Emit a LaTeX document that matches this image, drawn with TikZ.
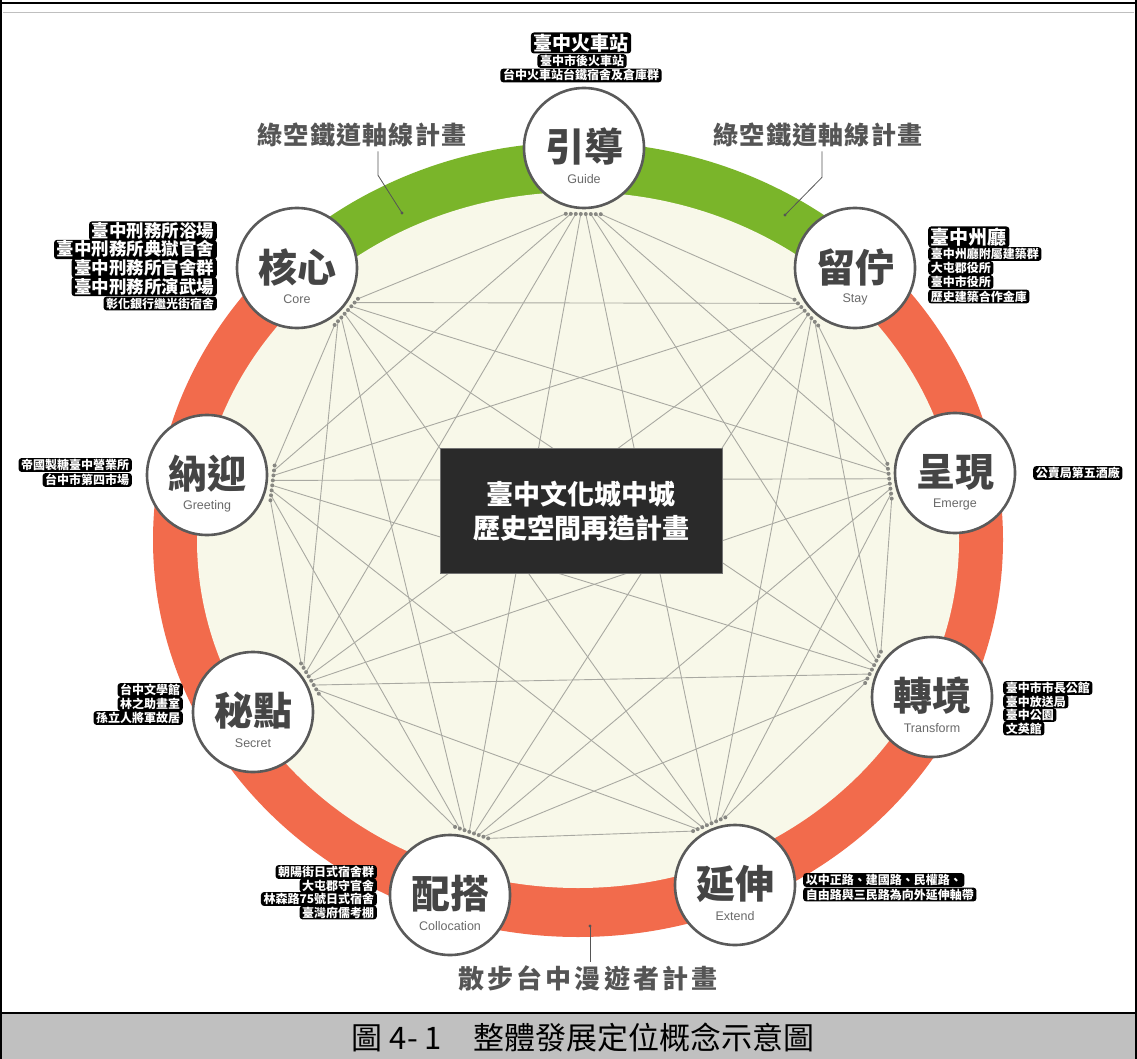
\documentclass[tikz,border=0pt]{standalone}
\usepackage{fontspec}
\setmainfont{Liberation Sans}
\newfontfamily\cjk{Noto Sans CJK TC}
\usetikzlibrary{calc}
\definecolor{greenR}{HTML}{7AB52A}
\definecolor{redR}{HTML}{F26B4C}
\definecolor{creamC}{HTML}{F8F8E9}
\definecolor{webC}{HTML}{A9A9A2}
\definecolor{nodeB}{HTML}{5A5A5A}
\definecolor{titleC}{HTML}{454545}
\definecolor{engC}{HTML}{6A6A6A}
\definecolor{boxC}{HTML}{2A2A2A}
\definecolor{capC}{HTML}{C0C0C0}
\definecolor{plabC}{HTML}{555555}
\tikzset{
 nodecirc/.style={circle, draw=nodeB, line width=2.6pt, fill=white, minimum size=120pt, inner sep=0pt},
 titletext/.style={font=\cjk\bfseries\fontsize{39}{42}\selectfont, text=titleC, inner sep=0pt},
 engtext/.style={font=\fontsize{12.5}{14}\selectfont, text=engC, inner sep=0pt},
 lab/.style={fill=black, text=white, rounded corners=3pt, inner xsep=2.6pt},
 biglab/.style={lab, font=\cjk\bfseries\fontsize{17.5}{20}\selectfont, text height=15.6pt, text depth=2.6pt, inner ysep=0.6pt},
 hugelab/.style={lab, font=\cjk\bfseries\fontsize{19}{21}\selectfont, text height=17pt, text depth=2.8pt, inner ysep=0.6pt},
 smalllab/.style={lab, font=\cjk\bfseries\fontsize{12}{14}\selectfont, text height=10.8pt, text depth=1.8pt, inner ysep=0.6pt},
 planlab/.style={font=\cjk\bfseries\fontsize{25}{28}\selectfont\addfontfeature{LetterSpace=5}, text=plabC, inner sep=0pt},
 webline/.style={draw=webC, line width=0.9pt},
 webdot/.style={fill=webC!80!black},
 leader/.style={draw=plabC, line width=0.8pt},
}
\begin{document}
\begin{tikzpicture}[x=1pt,y=-1pt]
\useasboundingbox (0,0) rectangle (1137,1059);
\fill[white] (0,0) rectangle (1137,1059);
% caption band and frame
\fill[capC] (0,1014) rectangle (1137,1059);
\draw[line width=2.5pt] (0,1013) -- (1137,1013);
\draw[line width=2pt] (0,3.5) -- (1137,3.5);
\draw[line width=2pt] (1,0) -- (1,1059);
\draw[line width=2pt] (1136,0) -- (1136,1059);
\draw[black!25, line width=1pt] (3,13) -- (1134,13);
% ring
\coordinate (O) at (578,540);
\coordinate (C) at (580,520);
\fill[redR] (O) ellipse [x radius=425, y radius=397];
\fill[greenR] plot[domain=224:316, samples=80] ({578+426*cos(\x)},{540+398*sin(\x)})
  -- plot[domain=316:224, samples=80] ({578+380*cos(\x)},{540+347*sin(\x)}) -- cycle;
\fill[creamC] (O) ellipse [x radius=381, y radius=348];
% node centres
\coordinate (N0) at (584,148);
\coordinate (N1) at (855,268);
\coordinate (N2) at (955,473);
\coordinate (N3) at (932,697);
\coordinate (N4) at (735,885);
\coordinate (N5) at (450,895);
\coordinate (N6) at (253,712);
\coordinate (N7) at (207,475);
\coordinate (N8) at (297,268);
\foreach \i in {0,...,8}{ \coordinate (A\i) at ($(N\i)!66pt!(C)$); }
% web
\foreach \i in {0,...,8}{
 \foreach \j in {0,...,8}{
  \ifnum\i<\j
   \pgfmathsetmacro\tij{(4.5-mod(\j-\i+9,9))*5}
   \pgfmathsetmacro\tji{(4.5-mod(\i-\j+9,9))*5}
   \path ($(A\i)!\tij pt!90:(C)$) coordinate (P) ($(A\j)!\tji pt!90:(C)$) coordinate (Q);
   \draw[webline] (P) -- (Q);
   \fill[webdot] (P) circle (2) (Q) circle (2);
  \fi
 }
}
% center box
\node[fill=boxC, draw=black!55, line width=1pt, minimum width=282pt, minimum height=125pt,
  text=white, align=center, font=\cjk\bfseries\fontsize{27}{34}\selectfont] (hub) at (581,511)
  {臺中文化城中城\\歷史空間再造計畫};
% nodes
\foreach \n/\t/\e in {0/引導/Guide,1/留佇/Stay,2/呈現/Emerge,3/轉境/Transform,4/延伸/Extend,5/配搭/Collocation,6/秘點/Secret,7/納迎/Greeting,8/核心/Core}{
  \node[nodecirc] (n\n) at (N\n) {};
  \node[titletext] (t\n) at ($(N\n)+(0,-1)$) {\t};
  \node[engtext] (e\n) at ($(N\n)+(0,31)$) {\e};
}
% guide labels
\node[hugelab] (g1) at (581,43) {臺中火車站};
\node[smalllab] (g2) at (582,61) {臺中市後火車站};
\node[smalllab] (g3) at (581,75.5) {台中火車站台鐵宿舍及倉庫群};
% core labels
\node[biglab, anchor=east] (c1) at (217,231) {臺中刑務所浴場};
\node[biglab, anchor=east] (c2) at (217,249.5) {臺中刑務所典獄官舍};
\node[biglab, anchor=east] (c3) at (217,268) {臺中刑務所官舍群};
\node[biglab, anchor=east] (c4) at (217,286.5) {臺中刑務所演武場};
\node[smalllab, anchor=east] (c5) at (217,303.5) {彰化銀行繼光街宿舍};
% stay labels
\node[hugelab, anchor=west] (s1) at (928,237) {臺中州廳};
\node[smalllab, anchor=west] (s2) at (928,254) {臺中州廳附屬建築群};
\node[smalllab, anchor=west] (s3) at (928,268) {大屯郡役所};
\node[smalllab, anchor=west] (s4) at (928,282) {臺中市役所};
\node[smalllab, anchor=west] (s5) at (928,296.5) {歷史建築合作金庫};
% greeting labels
\node[smalllab, anchor=east] (r1) at (132,465) {帝國製糖臺中營業所};
\node[smalllab, anchor=east] (r2) at (132,480) {台中市第四市場};
% emerge label
\node[smalllab, anchor=west] (m1) at (1033,473) {公賣局第五酒廠};
% secret labels
\node[smalllab, anchor=east] (k1) at (183,690) {台中文學館};
\node[smalllab, anchor=east] (k2) at (183,704) {林之助畫室};
\node[smalllab, anchor=east] (k3) at (183,718) {孫立人將軍故居};
% transform labels
\node[smalllab, anchor=west] (f1) at (1003,688) {臺中市市長公館};
\node[smalllab, anchor=west] (f2) at (1003,701.5) {臺中放送局};
\node[smalllab, anchor=west] (f3) at (1003,715) {臺中公園};
\node[smalllab, anchor=west] (f4) at (1003,728.5) {文英館};
% collocation labels
\node[smalllab, anchor=east] (l1) at (377,872) {朝陽街日式宿舍群};
\node[smalllab, anchor=east] (l2) at (377,885.5) {大屯郡守官舍};
\node[smalllab, anchor=east] (l3) at (377,899) {林森路75號日式宿舍};
\node[smalllab, anchor=east] (l4) at (377,912.5) {臺灣府儒考棚};
% extend labels
\node[smalllab, anchor=west] (x1) at (803,880) {以中正路、建國路、民權路、};
\node[smalllab, anchor=west] (x2) at (803,894.5) {自由路與三民路為向外延伸軸帶};
% plan labels and leaders
\node[planlab] (pl) at (362,135) {綠空鐵道軸線計畫};
\node[planlab] (pr) at (818,135) {綠空鐵道軸線計畫};
\node[planlab, font=\cjk\bfseries\fontsize{26}{28}\selectfont\addfontfeature{LetterSpace=12}] (pb) at (588,978) {散步台中漫遊者計畫};
\coordinate (ql) at (402,213);
\coordinate (qr) at (785,215);
\coordinate (qb) at (590,926);
\draw[leader] ($(pl.south)+(16,4)$) -- ++(0,24) -- (ql);
\draw[leader] ($(pr.south)+(4,4)$) -- ++(0,26) -- (qr);
\draw[leader] (qb) -- ($(pb.north)+(2,-3)$);
\fill[plabC] (ql) circle (1.6) (qr) circle (1.6) (qb) circle (1.6);
% caption
\node[font=\cjk\fontsize{31}{34}\selectfont, inner sep=0pt] (cap) at (583,1038) {圖 4- 1　整體發展定位概念示意圖};
\end{tikzpicture}
\end{document}
